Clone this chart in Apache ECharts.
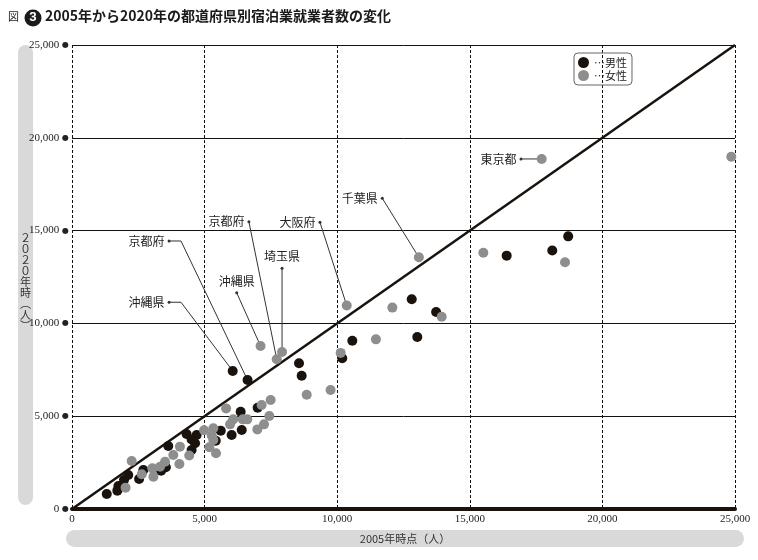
<!DOCTYPE html>
<html>
<head>
<meta charset="utf-8">
<script src="https://cdn.jsdelivr.net/npm/echarts@6/dist/echarts.min.js"></script>
<style>
  html, body { margin: 0; padding: 0; background: #fff; }
  #chart { width: 758px; height: 560px; }
</style>
</head>
<body>
<div id="chart"></div>
<script>
// 2005年時点 / 2020年時 の就業者数（人）
var male2005 = [1310, 1710, 1750, 1960, 2120, 2530, 2690, 3360, 3540, 3630, 4320, 4510, 4640, 4510, 4700, 5610, 5420, 6360, 6400, 6020, 7000, 6060, 6620, 8560, 8660, 10190, 10570, 12810, 13730, 13020, 16390, 18110, 18710];
var male2020 = [810, 990, 1240, 1560, 1830, 1620, 2100, 2060, 2250, 3390, 4040, 3750, 3540, 3180, 3990, 4220, 3680, 5240, 4260, 3990, 5460, 7440, 6950, 7850, 7180, 8120, 9070, 11300, 10610, 9270, 13650, 13930, 14690];
var female2005 = [2020, 2250, 2630, 3070, 3030, 3320, 3510, 3820, 4070, 4050, 4420, 4980, 5270, 5330, 5180, 5430, 5810, 6080, 6440, 6610, 5960, 6990, 7240, 7440, 7150, 7490, 7110, 7720, 7920, 8850, 9750, 10130, 10360, 11460, 12080, 13080, 13940, 15510, 18590, 17710, 24860, 5330];
var female2020 = [1150, 2590, 1870, 1740, 2190, 2280, 2550, 2910, 3360, 2420, 2880, 4240, 3960, 3720, 3330, 3000, 5420, 4830, 4830, 4830, 4560, 4290, 4560, 5010, 5600, 5870, 8780, 8070, 8460, 6160, 6410, 8410, 10960, 9140, 10850, 13560, 10360, 13810, 13290, 18860, 18980, 4350];
var ticks = [0, 5000, 10000, 15000, 20000, 25000];

// 注記（都道府県名、対象の系列と番号、引き出し線の起点）
var notes = [
    { name: "東京都", sex: "f", idx: 39, from: [16930, 18860], pos: "left" },
    { name: "千葉県", sex: "f", idx: 35, from: [11700, 16740], pos: "left" },
    { name: "大阪府", sex: "f", idx: 32, from: [9350, 15450], pos: "left" },
    { name: "京都府", sex: "f", idx: 27, from: [6670, 15480], pos: "left" },
    { name: "埼玉県", sex: "f", idx: 28, from: [7920, 12970], pos: "top" },
    { name: "沖縄県", sex: "f", idx: 26, from: [6210, 11650], pos: "top" },
    { name: "京都府", sex: "m", idx: 22, from: [3660, 14440], pos: "left", elbow: 450 },
    { name: "沖縄県", sex: "m", idx: 21, from: [3660, 11140], pos: "left", elbow: 450 }
];

var BLACK = "#1a120d";
var GREY = "#8e8e8e";
var NUM_FONT = "Liberation Sans Narrow";
var JP_FONT = "Noto Sans CJK JP";

function pairs(xs, ys) {
    return xs.map(function(x, i) { return [x, ys[i]]; });
}
function fmt(v) {
    return v.toLocaleString("en-US");
}

(function() {
    var myChart = echarts.init(document.getElementById("chart"));

    // 引き出し線と県名ラベル
    var noteSeries = notes.map(function(n) {
        var tx = n.sex === "m" ? male2005[n.idx] : female2005[n.idx];
        var ty = n.sex === "m" ? male2020[n.idx] : female2020[n.idx];
        var pts = [{
            value: n.from,
            symbol: "circle",
            symbolSize: 3,
            label: {
                show: true,
                position: n.pos,
                distance: n.pos === "top" ? 4 : 3,
                formatter: n.name,
                color: "#222",
                fontSize: 12,
                fontFamily: JP_FONT
            }
        }];
        if (n.elbow) {
            pts.push({ value: [n.from[0] + n.elbow, n.from[1]] });
        }
        pts.push({ value: [tx, ty] });
        return {
            type: "line",
            data: pts,
            symbol: "none",
            showSymbol: true,
            itemStyle: { color: "#333" },
            lineStyle: { color: "#333", width: 1 },
            silent: true,
            z: 3
        };
    });

    var option = {
        animation: false,
        textStyle: { fontFamily: JP_FONT },
        grid: {
            left: 72,
            right: 23,
            top: 45,
            bottom: 51
        },
        legend: {
            data: ["男性", "女性"],
            orient: "vertical",
            left: 574,
            top: 53,
            itemWidth: 11,
            itemHeight: 11,
            itemGap: 2,
            padding: [4, 5, 4, 4],
            borderColor: "#666",
            borderWidth: 1,
            borderRadius: 4,
            formatter: function(name) { return "⋯" + name; },
            textStyle: { fontSize: 11, color: "#222" }
        },
        xAxis: {
            type: "value",
            min: 0,
            max: 25000,
            interval: 5000,
            axisLine: { show: true, onZero: false, lineStyle: { color: BLACK, width: 4 } },
            axisTick: { show: false },
            axisLabel: {
                color: "#222",
                fontFamily: NUM_FONT,
                fontSize: 11,
                margin: 5,
                formatter: function(v) { return fmt(v); }
            },
            splitLine: {
                show: true,
                lineStyle: { color: "#111", width: 1, type: [3, 2] }
            }
        },
        yAxis: {
            type: "value",
            min: 0,
            max: 25000,
            interval: 5000,
            axisLine: { show: false },
            axisTick: { show: false },
            axisLabel: {
                color: "#222",
                fontFamily: NUM_FONT,
                fontSize: 11,
                margin: 3,
                formatter: function(v) { return fmt(v) + " {d|●}"; },
                rich: { d: { fontSize: 8, color: "#222", fontFamily: "DejaVu Sans" } }
            },
            splitLine: {
                show: true,
                lineStyle: { color: "#111", width: 1 }
            }
        },
        graphic: [
            { type: "text", left: 8, top: 11, style: { text: "図", fontSize: 11, fontFamily: JP_FONT, fill: "#222" } },
            { type: "circle", shape: { cx: 33, cy: 18, r: 8.5 }, style: { fill: "#1a1a1a" } },
            { type: "text", x: 33, y: 18, style: { text: "3", fontSize: 13, fontWeight: "bold", fontFamily: "Roboto", fill: "#fff", align: "center", verticalAlign: "middle" } },
            { type: "text", left: 45, top: 9, style: { text: "2005年から2020年の都道府県別宿泊業就業者数の変化", fontSize: 14, fontWeight: "bold", fontFamily: JP_FONT, fill: "#1a1a1a" } },
            { type: "rect", shape: { x: 18, y: 45, width: 15, height: 460, r: 7.5 }, style: { fill: "#d9d9d9" }, z: -1 },
            { type: "text", x: 25.5, y: 282, style: { text: "２\n０\n２\n０\n年\n時\n︵\n人\n︶", fontSize: 11, lineHeight: 11, fontFamily: JP_FONT, fill: "#333", align: "center", verticalAlign: "middle" } },
            { type: "rect", shape: { x: 66, y: 530, width: 678, height: 17, r: 8.5 }, style: { fill: "#d9d9d9" }, z: -1 },
            { type: "text", x: 405, y: 538.5, style: { text: "2005年時点（人）", fontSize: 11, fontFamily: JP_FONT, fill: "#333", align: "center", verticalAlign: "middle" } }
        ],
        series: [
            {
                name: "基準線",
                type: "line",
                data: [[ticks[0], ticks[0]], [ticks[ticks.length - 1], ticks[ticks.length - 1]]],
                symbol: "none",
                lineStyle: { color: BLACK, width: 2.5 },
                silent: true,
                z: 2
            }
        ].concat(noteSeries).concat([
            {
                name: "男性",
                type: "scatter",
                data: pairs(male2005, male2020),
                symbol: "circle",
                symbolSize: 10,
                itemStyle: { color: BLACK, opacity: 1 },
                z: 4
            },
            {
                name: "女性",
                type: "scatter",
                data: pairs(female2005, female2020),
                symbol: "circle",
                symbolSize: 10,
                itemStyle: { color: GREY, opacity: 1 },
                z: 5
            }
        ])
    };

    myChart.setOption(option);
    window.addEventListener("resize", function() {
        myChart.resize();
    });
})();
</script>
</body>
</html>
